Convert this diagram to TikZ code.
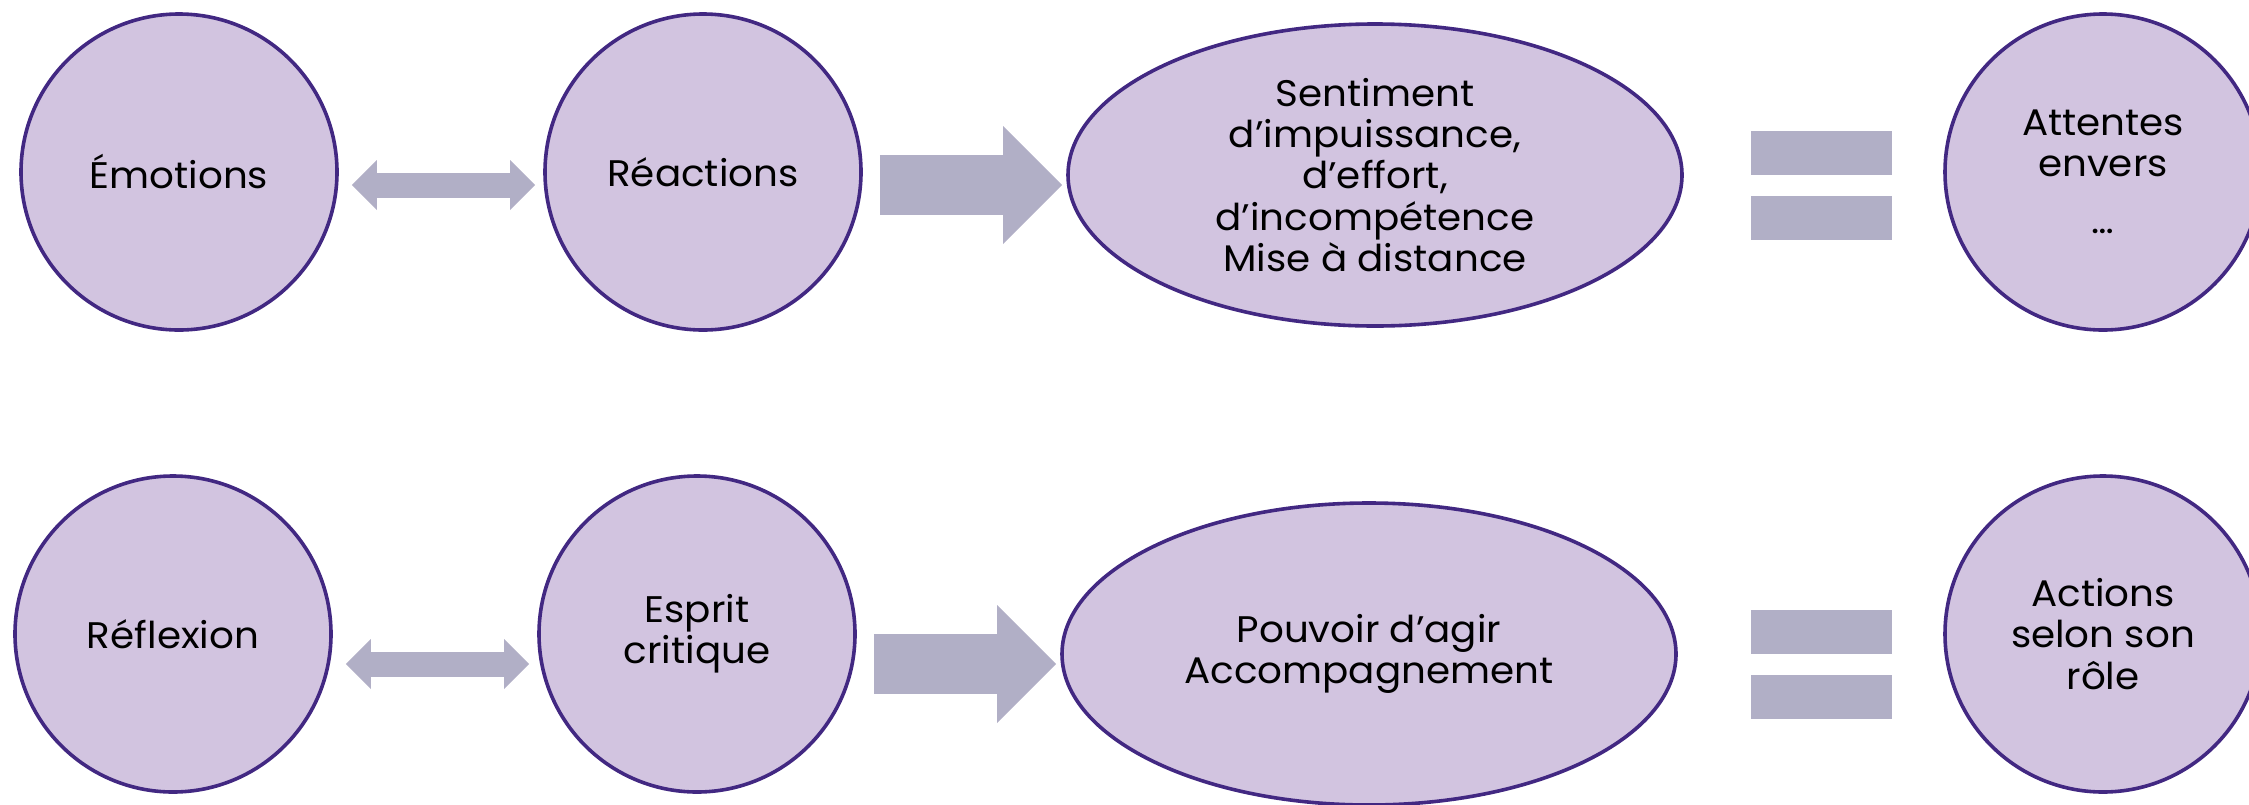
\documentclass[tikz,border=0pt]{standalone}
\usepackage{fontspec}
\setmainfont{Poppins}[FakeStretch=1.05]
\usetikzlibrary{arrows.meta, shapes.geometric}

\definecolor{bubblefill}{RGB}{210,196,224}
\definecolor{bubbleline}{RGB}{66,40,130}
\definecolor{arrowgrey}{RGB}{177,175,198}

\begin{document}
\begin{tikzpicture}[
    x=0.5pt, y=-0.5pt,
    bubble/.style={circle, draw=bubbleline, fill=bubblefill, line width=1.8pt, minimum size=158pt, inner sep=0pt, align=center, font=\fontsize{18.5}{20.6}\selectfont},
    oval/.style={ellipse, draw=bubbleline, fill=bubblefill, line width=1.8pt, minimum width=307pt, minimum height=151pt, inner sep=0pt, align=center, font=\fontsize{18.5}{20.6}\selectfont},
    bar/.style={rectangle, fill=arrowgrey, minimum width=70.5pt, minimum height=22pt, inner sep=0pt},
    twoway/.style={{Triangle[width=25pt,length=12.5pt,line width=0pt]}-{Triangle[width=25pt,length=12.5pt,line width=0pt]}, line width=12.5pt, draw=arrowgrey, shorten <=6.5pt, shorten >=4pt},
    oneway/.style={-{Triangle[width=59pt,length=29.5pt,line width=0pt]}, line width=30pt, draw=arrowgrey, shorten <=8.5pt, shorten >=2pt}
]

    \newcommand{\drawchain}[8]{
        % Bubbles
        \node[bubble] (left#1)  at (179+#2, #4) {#5};
        \node[bubble] (mid#1)   at (703+#2, #4) {#6};
        \node[oval]   (oval#1)  at (1375+#2, #3-10) {#7};
        \node[bubble] (right#1) at (2103, #4) {#8};
        % Equals sign
        \node[bar] (bartop#1) at (1821, #3-32.5) {};
        \node[bar] (barbot#1) at (1821, #3+32.5) {};
        % Arrows
        \coordinate (axis#1) at (0, #3);
        \draw[twoway] (left#1.east |- axis#1) -- (mid#1.west |- axis#1);
        \draw[oneway] (mid#1.east |- axis#1) -- (oval#1.west |- axis#1);
    }

    \useasboundingbox (0,0) rectangle (2249,804);
    \clip (0,0) rectangle (2249,804);

    % --- ROW 1 ---
    \drawchain{A}{0}{185}{172}{Émotions}{Réactions}{Sentiment\\d’impuissance,\\d’effort,\\d’incompétence\\Mise à distance}{Attentes\\envers\\[8pt]…}

    % --- ROW 2 ---
    \drawchain{B}{-6}{664}{634}{Réflexion}{Esprit\\critique}{Pouvoir d’agir\\Accompagnement}{Actions\\selon son\\rôle}
\end{tikzpicture}
\end{document}
